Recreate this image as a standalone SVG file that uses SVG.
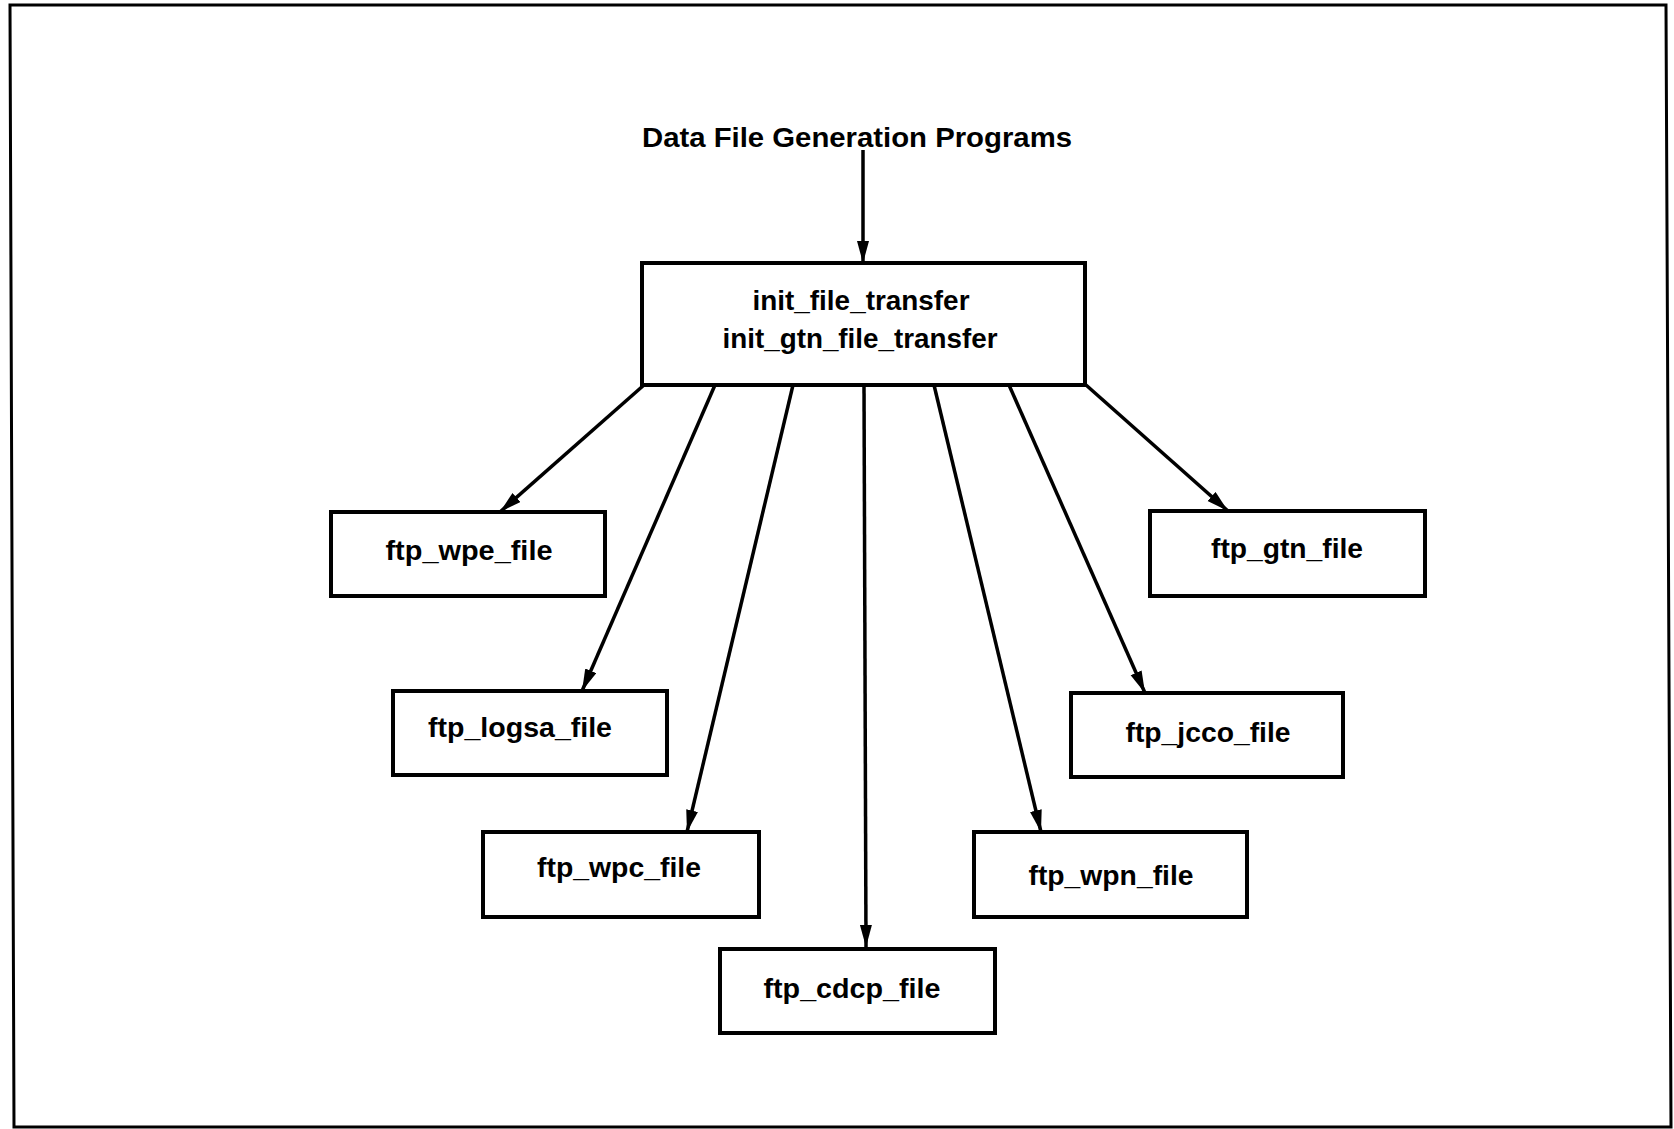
<svg xmlns="http://www.w3.org/2000/svg" width="1674" height="1129" viewBox="0 0 1674 1129">
<style>
.box{fill:#fff;stroke:#000;stroke-width:4}
.lbl{font-family:"Liberation Sans",Arial,sans-serif;font-size:28px;font-weight:bold;fill:#000;text-anchor:middle}
.conn{stroke:#000;stroke-width:3.5;fill:none;marker-end:url(#ah)}
</style>
<defs>
<marker id="ah" markerUnits="userSpaceOnUse" markerWidth="24" markerHeight="14" refX="22" refY="6" orient="auto">
<path d="M0,0 L22,6 L0,12 z" fill="#000"/>
</marker>
</defs>
<rect width="1674" height="1129" fill="#fff"/>
<polygon points="10,5 1666,5 1671,1127 14,1127" fill="none" stroke="#000" stroke-width="3"/>
<g id="title">
<text class="lbl" x="857" y="147" textLength="430" lengthAdjust="spacingAndGlyphs">Data File Generation Programs</text>
</g>
<g id="connectors">
<line class="conn" x1="863" y1="150" x2="863" y2="263"/>
<line class="conn" x1="644" y1="385" x2="500" y2="512"/>
<line class="conn" x1="715" y1="385" x2="582" y2="691"/>
<line class="conn" x1="793" y1="385" x2="687" y2="832"/>
<line class="conn" x1="864" y1="385" x2="866" y2="947"/>
<line class="conn" x1="934" y1="385" x2="1041" y2="832"/>
<line class="conn" x1="1009" y1="385" x2="1145" y2="693"/>
<line class="conn" x1="1086" y1="385" x2="1228" y2="511"/>
</g>
<g id="init_file_transfer">
<rect class="box" x="642" y="263" width="443" height="122"/>
<text class="lbl" x="861" y="310" textLength="217" lengthAdjust="spacingAndGlyphs">init_file_transfer</text>
<text class="lbl" x="860" y="348" textLength="275" lengthAdjust="spacingAndGlyphs">init_gtn_file_transfer</text>
</g>
<g id="ftp_wpe_file">
<rect class="box" x="331" y="512" width="274" height="84"/>
<text class="lbl" x="469" y="560" textLength="167" lengthAdjust="spacingAndGlyphs">ftp_wpe_file</text>
</g>
<g id="ftp_logsa_file">
<rect class="box" x="393" y="691" width="274" height="84"/>
<text class="lbl" x="520" y="737" textLength="184" lengthAdjust="spacingAndGlyphs">ftp_logsa_file</text>
</g>
<g id="ftp_wpc_file">
<rect class="box" x="483" y="832" width="276" height="85"/>
<text class="lbl" x="619" y="877" textLength="164" lengthAdjust="spacingAndGlyphs">ftp_wpc_file</text>
</g>
<g id="ftp_cdcp_file">
<rect class="box" x="720" y="949" width="275" height="84"/>
<text class="lbl" x="852" y="998" textLength="177" lengthAdjust="spacingAndGlyphs">ftp_cdcp_file</text>
</g>
<g id="ftp_wpn_file">
<rect class="box" x="974" y="832" width="273" height="85"/>
<text class="lbl" x="1111" y="885" textLength="165" lengthAdjust="spacingAndGlyphs">ftp_wpn_file</text>
</g>
<g id="ftp_jcco_file">
<rect class="box" x="1071" y="693" width="272" height="84"/>
<text class="lbl" x="1208" y="742" textLength="165" lengthAdjust="spacingAndGlyphs">ftp_jcco_file</text>
</g>
<g id="ftp_gtn_file">
<rect class="box" x="1150" y="511" width="275" height="85"/>
<text class="lbl" x="1287" y="558" textLength="152" lengthAdjust="spacingAndGlyphs">ftp_gtn_file</text>
</g>
</svg>
